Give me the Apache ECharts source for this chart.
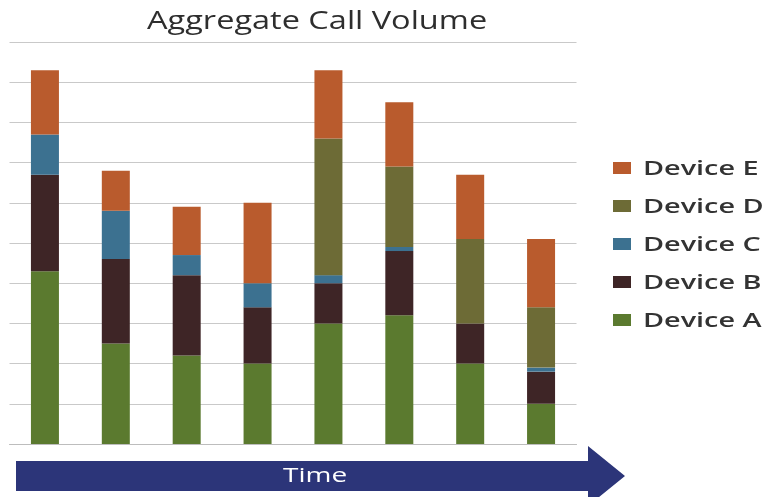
<!DOCTYPE html>
<html>
<head>
<meta charset="utf-8">
<script src="https://cdn.jsdelivr.net/npm/echarts@6/dist/echarts.min.js"></script>
<style>
  html, body { margin: 0; padding: 0; background: #ffffff; }
  #chart { width: 762px; height: 497px; }
</style>
</head>
<body>
<div id="chart"></div>
<script>
// Call volume per time period, stacked by device type
const periods = ['T1', 'T2', 'T3', 'T4', 'T5', 'T6', 'T7', 'T8'];
const deviceA = [4.3, 2.5, 2.2, 2.0, 3.0, 3.2, 2.0, 1.0];
const deviceB = [2.4, 2.1, 2.0, 1.4, 1.0, 1.6, 1.0, 0.8];
const deviceC = [1.0, 1.2, 0.5, 0.6, 0.2, 0.1, 0.0, 0.1];
const deviceD = [0.0, 0.0, 0.0, 0.0, 3.4, 2.0, 2.1, 1.5];
const deviceE = [1.6, 1.0, 1.2, 2.0, 1.7, 1.6, 1.6, 1.7];
const seriesNames = ['Device A', 'Device B', 'Device C', 'Device D', 'Device E'];
const seriesValues = [deviceA, deviceB, deviceC, deviceD, deviceE];
const seriesColors = ['#5b7a2f', '#3e2526', '#3c7190', '#6d6b36', '#b95b2d'];
const titleText = 'Aggregate Call Volume';
const arrowText = 'Time';

const FONT = '"Open Sans", "Liberation Sans", sans-serif';

const chart = echarts.init(document.getElementById('chart'), null, { renderer: 'canvas' });

// Legend: top entry is the last series (matches stacking order)
const legendItems = [];
seriesNames.slice().reverse().forEach((name, row) => {
  const cy = 168 + row * 38;
  const color = seriesColors[seriesNames.indexOf(name)];
  legendItems.push({
    type: 'rect',
    shape: { x: 613, y: cy - 6, width: 18, height: 12 },
    style: { fill: color }
  });
  legendItems.push({
    type: 'text',
    x: 643,
    y: cy + 1,
    scaleX: 1.44,
    style: {
      text: name, x: 0, y: 0, align: 'left', verticalAlign: 'middle',
      fill: '#333333', fontFamily: FONT, fontSize: 20, fontWeight: 600
    }
  });
});

chart.setOption({
  animation: false,
  backgroundColor: '#ffffff',
  grid: { left: 9.5, right: 185.5, top: 42, bottom: 53, containLabel: false },
  xAxis: {
    type: 'category',
    data: periods,
    axisLine: { lineStyle: { color: '#bdbdbd', width: 1 } },
    axisTick: { show: false },
    axisLabel: { show: false }
  },
  yAxis: {
    type: 'value',
    min: 0,
    max: 10,
    interval: 1,
    axisLine: { show: false },
    axisTick: { show: false },
    axisLabel: { show: false },
    splitLine: { lineStyle: { color: '#c9c9c9', width: 1 } }
  },
  series: seriesNames.map((name, i) => ({
    name: name,
    type: 'bar',
    stack: 'total',
    barWidth: 28,
    data: seriesValues[i],
    itemStyle: { color: seriesColors[i] }
  })),
  graphic: [
    {
      type: 'text',
      x: 147,
      y: 22,
      scaleX: 1.25,
      style: {
        text: titleText, x: 0, y: 0, align: 'left', verticalAlign: 'middle',
        fill: '#2e2e2e', fontFamily: FONT, fontSize: 26, fontWeight: 500
      }
    },
    {
      type: 'polygon',
      shape: {
        points: [[16, 461], [588, 461], [588, 446], [625, 476], [588, 506], [588, 491], [16, 491]]
      },
      style: { fill: '#2c3579' }
    },
    {
      type: 'text',
      x: 283,
      y: 476,
      scaleX: 1.4,
      style: {
        text: arrowText, x: 0, y: 0, align: 'left', verticalAlign: 'middle',
        fill: '#ffffff', fontFamily: FONT, fontSize: 20
      }
    }
  ].concat(legendItems)
});
</script>
</body>
</html>
